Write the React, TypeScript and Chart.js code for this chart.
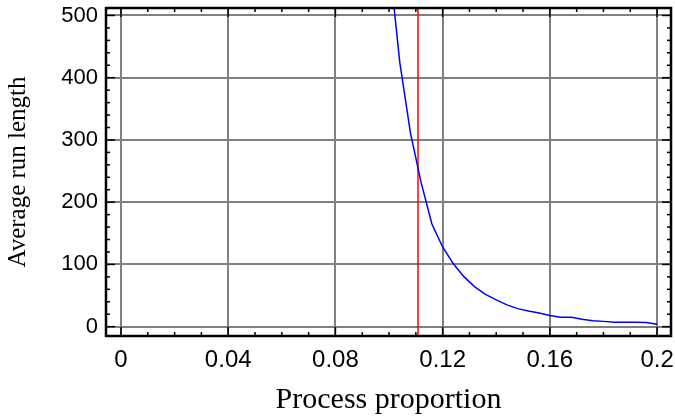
import React, { useEffect, useRef } from "react";
import { Chart, registerables } from "chart.js";

Chart.register(...registerables);

// Operating characteristic: average run length against the true process proportion
const proportions = [
  0.1, 0.104, 0.108, 0.112, 0.116, 0.12, 0.124, 0.128, 0.132, 0.136, 0.14, 0.144, 0.148,
  0.152, 0.156, 0.16, 0.164, 0.168, 0.172, 0.176, 0.18, 0.184, 0.188, 0.192, 0.196, 0.2,
];
const runLengths = [
  590, 425, 311, 231, 165, 128, 101, 80, 64, 52, 43, 35, 29,
  25, 22, 18, 15, 15, 12, 9.5, 8.5, 7, 7, 7, 6.5, 4,
];

// Upper control limit drawn as a vertical marker
const controlLimit = 0.1108;

const xTicks = [0, 0.04, 0.08, 0.12, 0.16, 0.2];
const yTicks = [0, 100, 200, 300, 400, 500];
const xMinorStep = 0.01;
const yMinorStep = 20;
const xRange = [-0.0056, 0.2052];
const yRange = [-15, 512];

const tickFont = "'Liberation Sans', Arial, sans-serif";
const titleFont = "'Liberation Serif', 'Times New Roman', serif";

const framePlugin = {
  id: "frame",
  afterDatasetsDraw(chart: any) {
    const { ctx, chartArea: a, scales } = chart;
    const x = scales.x;
    const y = scales.y;
    ctx.save();
    ctx.strokeStyle = "#000";
    ctx.lineWidth = 1.5;
    const seg = (x1: number, y1: number, x2: number, y2: number) => {
      ctx.beginPath();
      ctx.moveTo(x1, y1);
      ctx.lineTo(x2, y2);
      ctx.stroke();
    };
    const xFirst = xTicks[0];
    const xLast = xTicks[xTicks.length - 1];
    const xCount = Math.round((xLast - xFirst) / xMinorStep);
    const xMajorEvery = Math.round((xTicks[1] - xTicks[0]) / xMinorStep);
    for (let i = 0; i <= xCount; i++) {
      const px = x.getPixelForValue(xFirst + i * xMinorStep);
      const len = i % xMajorEvery === 0 ? 9 : 4;
      seg(px, a.bottom, px, a.bottom - len);
      seg(px, a.top, px, a.top + len);
    }
    const yFirst = yTicks[0];
    const yLast = yTicks[yTicks.length - 1];
    const yCount = Math.round((yLast - yFirst) / yMinorStep);
    const yMajorEvery = Math.round((yTicks[1] - yTicks[0]) / yMinorStep);
    for (let i = 0; i <= yCount; i++) {
      const py = y.getPixelForValue(yFirst + i * yMinorStep);
      const len = i % yMajorEvery === 0 ? 9 : 4;
      seg(a.left, py, a.left + len, py);
      seg(a.right, py, a.right - len, py);
    }
    ctx.lineWidth = 2.5;
    ctx.strokeRect(a.left, a.top, a.right - a.left, a.bottom - a.top);
    ctx.restore();
  },
};

const fmt = (v: number) => String(Number(v.toFixed(4)));

export default function App() {
  const canvasRef = useRef<HTMLCanvasElement | null>(null);

  useEffect(() => {
    const canvas = canvasRef.current;
    if (!canvas) return;
    const chart = new Chart(canvas, {
      type: "scatter",
      data: {
        datasets: [
          {
            data: proportions.map((p, i) => ({ x: p, y: runLengths[i] })),
            showLine: true,
            borderColor: "#0000ff",
            borderWidth: 1.5,
            pointRadius: 0,
            tension: 0,
          },
          {
            data: [
              { x: controlLimit, y: yRange[0] },
              { x: controlLimit, y: yRange[1] },
            ],
            showLine: true,
            borderColor: "#ff0000",
            borderWidth: 1.5,
            pointRadius: 0,
          },
        ],
      },
      options: {
        animation: false,
        responsive: false,
        devicePixelRatio: 1,
        layout: { padding: { left: 0, top: 8, right: 4, bottom: 0 } },
        plugins: { legend: { display: false }, tooltip: { enabled: false } },
        scales: {
          x: {
            type: "linear",
            min: xRange[0],
            max: xRange[1],
            afterBuildTicks: (s: any) => {
              s.ticks = xTicks.map((v) => ({ value: v }));
            },
            afterFit: (s: any) => {
              s.height = 83;
              s.paddingLeft = 0;
              s.paddingRight = 0;
            },
            grid: { color: "#808080", lineWidth: 2, drawTicks: false },
            border: { display: false },
            ticks: {
              color: "#000",
              font: { family: tickFont, size: 24 },
              padding: 10,
              maxRotation: 0,
              autoSkip: false,
              callback: (v: any) => fmt(Number(v)),
            },
            title: {
              display: true,
              text: "Process proportion",
              color: "#000",
              font: { family: titleFont, size: 30 },
              padding: { top: 0, bottom: 1 },
            },
          },
          y: {
            type: "linear",
            min: yRange[0],
            max: yRange[1],
            afterBuildTicks: (s: any) => {
              s.ticks = yTicks.map((v) => ({ value: v }));
            },
            afterFit: (s: any) => {
              s.width = 106;
              s.paddingTop = 0;
              s.paddingBottom = 0;
            },
            grid: { color: "#808080", lineWidth: 2, drawTicks: false },
            border: { display: false },
            ticks: {
              color: "#000",
              font: { family: tickFont, size: 22 },
              padding: 8,
              autoSkip: false,
              callback: (v: any) => fmt(Number(v)),
            },
            title: {
              display: true,
              text: "Average run length",
              color: "#000",
              font: { family: titleFont, size: 25 },
              padding: { top: 3, bottom: 0 },
            },
          },
        },
      },
      plugins: [framePlugin],
    });
    return () => chart.destroy();
  }, []);

  return (
    <div style={{ position: "absolute", left: 0, top: 0, width: 675, height: 419, background: "#fff" }}>
      <canvas ref={canvasRef} width={675} height={419} />
    </div>
  );
}
